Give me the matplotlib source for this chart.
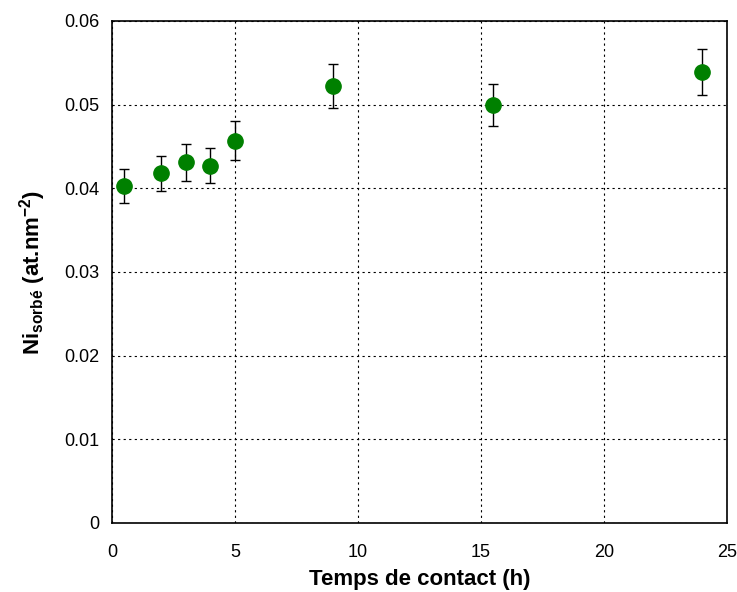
import matplotlib
matplotlib.use("Agg")
import matplotlib.pyplot as plt

# temps de contact (h) et Ni sorbé (at.nm-2)
temps = [0.5, 2, 3, 4, 5, 9, 15.5, 24]
ni_sorbe = [0.0403, 0.0418, 0.0431, 0.0427, 0.0457, 0.0522, 0.0500, 0.0539]
erreur = [0.0020, 0.0021, 0.0022, 0.0021, 0.0023, 0.0026, 0.0025, 0.0027]

plt.rcParams['font.family'] = ['Liberation Sans', 'DejaVu Sans']
plt.rcParams['mathtext.fontset'] = 'custom'
plt.rcParams['mathtext.rm'] = 'Liberation Sans:bold'
plt.rcParams['mathtext.it'] = 'Liberation Sans:bold'
plt.rcParams['mathtext.bf'] = 'Liberation Sans:bold'


def grafico():
    fig = plt.figure(figsize=(7.37, 5.92), dpi=100)
    ax = fig.add_axes([0.152, 0.1166, 0.834, 0.848])

    ax.errorbar(temps, ni_sorbe, yerr=erreur, fmt='o', color='#008000',
                markersize=11, ecolor='black', elinewidth=1, capsize=3.5,
                capthick=1, zorder=3)

    ax.set_xlim(0, 25)
    ax.set_ylim(0, 0.06)
    ax.set_xticks([0, 5, 10, 15, 20, 25])
    ax.set_yticks([0, 0.01, 0.02, 0.03, 0.04, 0.05, 0.06])
    ax.set_yticklabels(['0', '0.01', '0.02', '0.03', '0.04', '0.05', '0.06'])
    ax.tick_params(labelsize=13, length=0)
    ax.tick_params(axis='x', pad=15)
    ax.tick_params(axis='y', pad=9)

    ax.grid(True, color='black', linestyle=(0, (2, 3)), linewidth=0.8)
    for s in ax.spines.values():
        s.set_linewidth(1.2)

    ax.set_xlabel('Temps de contact (h)', fontsize=16, fontweight='bold', labelpad=6)
    ax.set_ylabel(r'Ni$_{\mathrm{sorbé}}$ (at.nm$^{\mathrm{-2}}$)', fontsize=16,
                  fontweight='bold', labelpad=12)

    fig.savefig('out.png', dpi=100)


if __name__ == "__main__":
    grafico()
